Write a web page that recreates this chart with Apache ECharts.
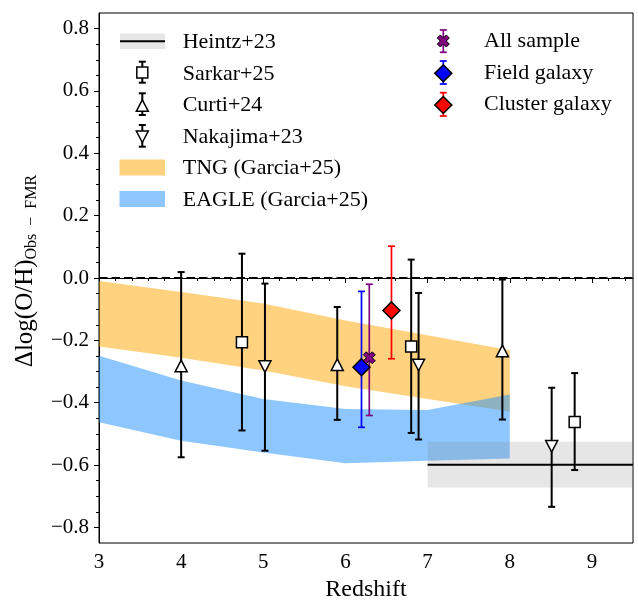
<!DOCTYPE html>
<html>
<head>
<meta charset="utf-8">
<script src="https://cdn.jsdelivr.net/npm/echarts@6/dist/echarts.min.js"></script>
<style>
  html, body { margin: 0; padding: 0; background: #fff; }
  #chart { width: 638px; height: 600px; }
</style>
</head>
<body>
<div id="chart"></div>
<script>
var FONT = 'Liberation Serif';

// ticks
var xTicks = [3, 4, 5, 6, 7, 8, 9];
var yTicks = [-0.8, -0.6, -0.4, -0.2, 0.0, 0.2, 0.4, 0.6, 0.8];

// simulation bands (Garcia+25)
var bandZ = [3, 4, 5, 6, 7, 8];
var tngUp = [-0.010, -0.045, -0.082, -0.136, -0.184, -0.232];
var tngLo = [-0.220, -0.256, -0.297, -0.347, -0.388, -0.428];
var eagleUp = [-0.249, -0.329, -0.388, -0.420, -0.423, -0.374];
var eagleLo = [-0.463, -0.522, -0.560, -0.594, -0.586, -0.579];

// Heintz+23 (z>7)
var heintzZ = [7, 10];
var heintzMid = -0.599;
var heintzLo = -0.672;
var heintzHi = -0.525;

// literature points
var sarkarZ = [4.74, 6.80, 8.79];
var sarkarY = [-0.206, -0.220, -0.462];
var sarkarLo = [-0.489, -0.497, -0.616];
var sarkarHi = [0.078, 0.059, -0.305];

var curtiZ = [4.00, 5.90, 7.91];
var curtiY = [-0.282, -0.278, -0.234];
var curtiLo = [-0.575, -0.455, -0.454];
var curtiHi = [0.019, -0.093, -0.005];

var nakaZ = [5.02, 6.89, 8.51];
var nakaY = [-0.284, -0.279, -0.540];
var nakaLo = [-0.554, -0.518, -0.734];
var nakaHi = [-0.018, -0.048, -0.352];

// this work
var allZ = [6.29], allY = [-0.256], allLo = [-0.441], allHi = [-0.020];
var fieldZ = [6.195], fieldY = [-0.286], fieldLo = [-0.479], fieldHi = [-0.043];
var clusterZ = [6.56], clusterY = [-0.104], clusterLo = [-0.259], clusterHi = [0.102];

var zeroZ = [3, 9.5];

var xMinor = [], yMinor = [];
for (var i = 30; i <= 95; i += 2) xMinor.push(i / 10);
for (var j = -17; j <= 17; j++) yMinor.push(j * 0.05);

var downTri = 'path://M0,0L2,0L1,2Z';
var xMark = 'path://M1,0L2,1L3,0L4,1L3,2L4,3L3,4L2,3L1,4L0,3L1,2L0,1Z';

function zip(a, b) {
  return a.map(function (v, k) { return [v, b[k]]; });
}
function zip4(a, b, c, d) {
  return a.map(function (v, k) { return [v, b[k], c[k], d[k]]; });
}

function bandSeries(name, up, lo, color, z) {
  return {
    name: name, type: 'custom', z: z, clip: true, silent: true,
    data: [[bandZ[0], up[0]]],
    renderItem: function (params, api) {
      var pts = [];
      for (var k = 0; k < bandZ.length; k++) pts.push(api.coord([bandZ[k], up[k]]));
      for (var m = bandZ.length - 1; m >= 0; m--) pts.push(api.coord([bandZ[m], lo[m]]));
      return { type: 'polygon', shape: { points: pts }, style: { fill: color } };
    }
  };
}

function errSeries(name, z, y, lo, hi, color, width) {
  return {
    name: name, type: 'custom', z: 5, clip: true, silent: true,
    data: zip4(z, y, lo, hi),
    encode: { x: 0, y: [2, 3] },
    renderItem: function (params, api) {
      var top = api.coord([api.value(0), api.value(3)]);
      var bot = api.coord([api.value(0), api.value(2)]);
      var st = { stroke: color, lineWidth: width };
      return {
        type: 'group',
        children: [
          { type: 'line', shape: { x1: top[0], y1: top[1], x2: bot[0], y2: bot[1] }, style: st },
          { type: 'line', shape: { x1: top[0] - 3.5, y1: top[1], x2: top[0] + 3.5, y2: top[1] }, style: st },
          { type: 'line', shape: { x1: bot[0] - 3.5, y1: bot[1], x2: bot[0] + 3.5, y2: bot[1] }, style: st }
        ]
      };
    }
  };
}

function markSeries(name, z, y, symbol, size, fill, bw) {
  return {
    name: name, type: 'scatter', z: 6, silent: true,
    data: zip(z, y),
    symbol: symbol, symbolSize: size,
    itemStyle: { color: fill, borderColor: '#000', borderWidth: bw, opacity: 1 }
  };
}

// legend drawn by hand (matplotlib style error-bar icons)
function legBar(x, y1, y2, color, w) {
  var st = { stroke: color, lineWidth: w };
  return [
    { type: 'line', shape: { x1: x, y1: y1, x2: x, y2: y2 }, style: st },
    { type: 'line', shape: { x1: x - 3.5, y1: y1, x2: x + 3.5, y2: y1 }, style: st },
    { type: 'line', shape: { x1: x - 3.5, y1: y2, x2: x + 3.5, y2: y2 }, style: st }
  ];
}
function legText(x, y, s) {
  return { type: 'text', x: x, y: y, style: { text: s, font: '22px "' + FONT + '"', fill: '#000', align: 'left', verticalAlign: 'middle' } };
}
var lx = 142.3, rx = 443.3;
var blk = { fill: '#fff', stroke: '#000', lineWidth: 1.5 };
var legend = [].concat(
  [{ type: 'rect', shape: { x: 120, y: 33.5, width: 45, height: 15.5 }, style: { fill: 'rgba(128,128,128,0.2)' } },
   { type: 'line', shape: { x1: 120, y1: 41.3, x2: 165, y2: 41.3 }, style: { stroke: '#000', lineWidth: 2 } },
   legText(182.7, 42, 'Heintz+23')],
  legBar(lx, 61.7, 82.7, '#000', 2),
  [{ type: 'rect', shape: { x: lx - 5.5, y: 67, width: 11, height: 11 }, style: blk },
   legText(182.7, 74, 'Sarkar+25')],
  legBar(lx, 93.3, 115, '#000', 2),
  [{ type: 'polygon', shape: { points: [[lx, 99.8], [lx - 6, 111.3], [lx + 6, 111.3]] }, style: blk },
   legText(182.7, 105.6, 'Curti+24')],
  legBar(lx, 125, 146.7, '#000', 2),
  [{ type: 'polygon', shape: { points: [[lx - 6, 131], [lx + 6, 131], [lx, 142.5]] }, style: blk },
   legText(182.7, 137, 'Nakajima+23')],
  [{ type: 'rect', shape: { x: 119.5, y: 159.5, width: 45.5, height: 16 }, style: { fill: 'rgba(255,165,0,0.5)' } },
   legText(182.7, 168.5, 'TNG (Garcia+25)'),
   { type: 'rect', shape: { x: 119.5, y: 191, width: 45.5, height: 16 }, style: { fill: 'rgba(30,144,255,0.5)' } },
   legText(182.7, 199.8, 'EAGLE (Garcia+25)')],
  legBar(rx, 30, 52.3, '#800080', 1.7),
  [{ type: 'polygon', shape: { points: [[rx - 3, 35], [rx, 38], [rx + 3, 35], [rx + 6, 38], [rx + 3, 41], [rx + 6, 44], [rx + 3, 47], [rx, 44], [rx - 3, 47], [rx - 6, 44], [rx - 3, 41], [rx - 6, 38]] }, style: { fill: '#800080', stroke: '#000', lineWidth: 1 } },
   legText(484, 41.3, 'All sample')],
  legBar(rx, 61, 84, '#0000ff', 1.7),
  [{ type: 'polygon', shape: { points: [[rx, 64.8], [rx + 8.5, 73.3], [rx, 81.8], [rx - 8.5, 73.3]] }, style: { fill: '#0000ff', stroke: '#000', lineWidth: 1.5 } },
   legText(484, 73, 'Field galaxy')],
  legBar(rx, 92.7, 116, '#ff0000', 1.7),
  [{ type: 'polygon', shape: { points: [[rx, 96.5], [rx + 8.5, 105], [rx, 113.5], [rx - 8.5, 105]] }, style: { fill: '#ff0000', stroke: '#000', lineWidth: 1.5 } },
   legText(484, 104.7, 'Cluster galaxy')]
);
legend.forEach(function (e) { e.z = 100; });

var chart = echarts.init(document.getElementById('chart'));

var axisFont = { fontFamily: FONT, fontSize: 21, color: '#000' };

var option = {
  animation: false,
  backgroundColor: '#fff',
  grid: { left: 99, right: 5, top: 13, bottom: 57, outerBoundsMode: 'none', containLabel: false, show: true, borderColor: '#000', borderWidth: 1, backgroundColor: 'transparent' },
  xAxis: [{
    type: 'value', min: 3, max: 9.5, interval: 0.5, position: 'bottom',
    name: 'Redshift', nameLocation: 'middle', nameGap: 33,
    nameTextStyle: { fontFamily: FONT, fontSize: 24, color: '#000' },
    axisLine: { show: true, lineStyle: { color: '#000', width: 1 } },
    axisTick: { show: true, length: 5, customValues: xTicks, lineStyle: { color: '#000', width: 1 } },
    axisLabel: Object.assign({ margin: 9, customValues: xTicks }, axisFont),
    splitLine: { show: false }
  }, {
    type: 'value', min: 3, max: 9.5, interval: 0.5, position: 'bottom',
    axisLine: { show: false },
    axisTick: { show: true, length: 3, customValues: xMinor, lineStyle: { color: '#000', width: 1 } },
    axisLabel: { show: false },
    splitLine: { show: false }
  }],
  yAxis: [{
    type: 'value', min: -0.85, max: 0.85, interval: 0.05, position: 'left',
    name: '{a|Δlog(O/H)}{b|Obs\u2002\u2212\u2002FMR}', nameLocation: 'middle', nameGap: 57, nameRotate: 90,
    nameTextStyle: {
      fontFamily: FONT, color: '#000', padding: [0, 0, 0, 14],
      rich: {
        a: { fontFamily: FONT, fontSize: 25, lineHeight: 30, color: '#000' },
        b: { fontFamily: FONT, fontSize: 16, lineHeight: 18, verticalAlign: 'bottom', color: '#000' }
      }
    },
    axisLine: { show: true, lineStyle: { color: '#000', width: 1 } },
    axisTick: { show: true, length: 5, customValues: yTicks, lineStyle: { color: '#000', width: 1 } },
    axisLabel: Object.assign({
      margin: 10, customValues: yTicks,
      formatter: function (v) { return (v < 0 ? '\u2212' : '') + Math.abs(v).toFixed(1); }
    }, axisFont),
    splitLine: { show: false }
  }, {
    type: 'value', min: -0.85, max: 0.85, interval: 0.05, position: 'left',
    axisLine: { show: false },
    axisTick: { show: true, length: 3, customValues: yMinor, lineStyle: { color: '#000', width: 1 } },
    axisLabel: { show: false },
    splitLine: { show: false }
  }],
  graphic: legend,
  series: [
    bandSeries('TNG (Garcia+25)', tngUp, tngLo, 'rgba(255,165,0,0.5)', 1),
    bandSeries('EAGLE (Garcia+25)', eagleUp, eagleLo, 'rgba(30,144,255,0.5)', 2),
    {
      name: 'Heintz+23', type: 'custom', z: 3, clip: true, silent: true,
      data: [[heintzZ[0], heintzMid, heintzLo, heintzHi]],
      renderItem: function (params, api) {
        var a = api.coord([heintzZ[0], heintzHi]);
        var b = api.coord([heintzZ[1], heintzLo]);
        var m1 = api.coord([heintzZ[0], heintzMid]);
        var m2 = api.coord([heintzZ[1], heintzMid]);
        return {
          type: 'group',
          children: [
            { type: 'rect', shape: { x: a[0], y: a[1], width: b[0] - a[0], height: b[1] - a[1] }, style: { fill: 'rgba(128,128,128,0.2)' } },
            { type: 'line', shape: { x1: m1[0], y1: m1[1], x2: m2[0], y2: m2[1] }, style: { stroke: '#000', lineWidth: 2.2 } }
          ]
        };
      }
    },
    {
      // dashed zero line, dashes laid out in pixel space along the axis
      name: 'zero', type: 'custom', z: 4, clip: true, silent: true,
      data: [[zeroZ[0], 0]],
      renderItem: function (params, api) {
        var p1 = api.coord([zeroZ[0], 0]);
        var p2 = api.coord([zeroZ[1], 0]);
        var segs = [];
        for (var s = p1[0]; s < p2[0]; s += 12.5) {
          segs.push({ type: 'line', shape: { x1: s, y1: p1[1], x2: Math.min(s + 8.5, p2[0]), y2: p1[1] }, style: { stroke: '#000', lineWidth: 2 } });
        }
        return { type: 'group', children: segs };
      }
    },
    errSeries('Sarkar+25 err', sarkarZ, sarkarY, sarkarLo, sarkarHi, '#000', 2),
    errSeries('Curti+24 err', curtiZ, curtiY, curtiLo, curtiHi, '#000', 2),
    errSeries('Nakajima+23 err', nakaZ, nakaY, nakaLo, nakaHi, '#000', 2),
    errSeries('Field err', fieldZ, fieldY, fieldLo, fieldHi, '#0000ff', 1.7),
    errSeries('All err', allZ, allY, allLo, allHi, '#800080', 1.7),
    errSeries('Cluster err', clusterZ, clusterY, clusterLo, clusterHi, '#ff0000', 1.7),
    markSeries('Sarkar+25', sarkarZ, sarkarY, 'rect', 11, '#fff', 1.5),
    markSeries('Curti+24', curtiZ, curtiY, 'triangle', [12, 11.5], '#fff', 1.5),
    markSeries('Nakajima+23', nakaZ, nakaY, downTri, [12, 11.5], '#fff', 1.5),
    markSeries('Field galaxy', fieldZ, fieldY, 'diamond', 17, '#0000ff', 1.5),
    markSeries('All sample', allZ, allY, xMark, 12, '#800080', 1),
    markSeries('Cluster galaxy', clusterZ, clusterY, 'diamond', 17, '#ff0000', 1.5)
  ]
};

chart.setOption(option);
</script>
</body>
</html>
